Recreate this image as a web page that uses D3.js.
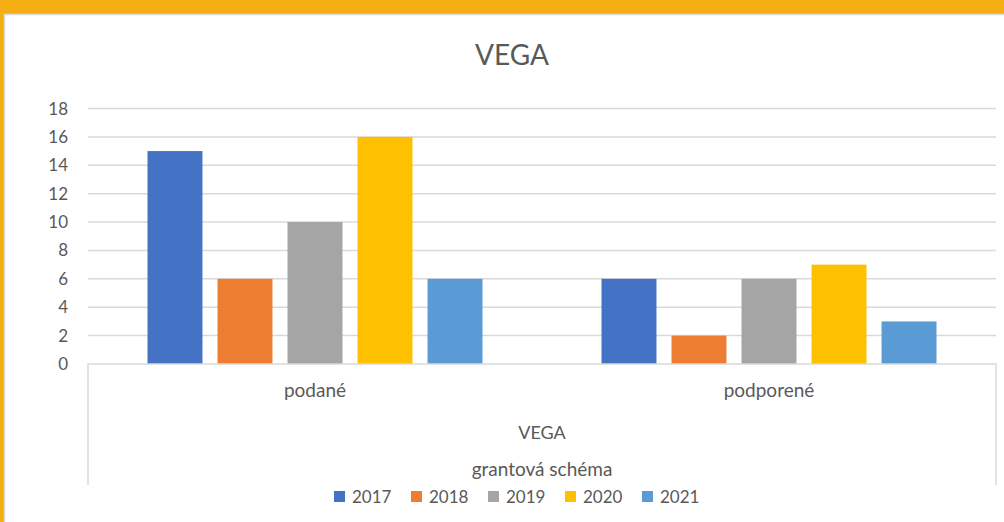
<!DOCTYPE html>
<html>
<head>
<meta charset="utf-8">
<script src="https://cdn.jsdelivr.net/npm/d3@7"></script>
<style>
  body { margin: 0; background: #F4AE14; }
  svg { display: block; font-family: Lato, "Open Sans", sans-serif; }
</style>
</head>
<body>
<div class="container"></div>
<script>
const categories = ["podané", "podporené"];
const years = ["2017", "2018", "2019", "2020", "2021"];
const values2017 = [15, 6];
const values2018 = [6, 2];
const values2019 = [10, 6];
const values2020 = [16, 7];
const values2021 = [6, 3];
const yTicks = [0, 2, 4, 6, 8, 10, 12, 14, 16, 18];
const colors = ["#4472C4", "#ED7D31", "#A5A5A5", "#FFC000", "#5B9BD5"];

const series = [values2017, values2018, values2019, values2020, values2021];

const width = 1004;
const height = 522;

const svg = d3.select("div.container")
    .append("svg")
    .attr("width", width)
    .attr("height", height);

// orange frame + white chart area
svg.append("rect").attr("x", 0).attr("y", 0).attr("width", width).attr("height", height).attr("fill", "#F4AE14");
svg.append("rect").attr("x", 4.5).attr("y", 14.5).attr("width", width).attr("height", height)
    .attr("fill", "#fff").attr("stroke", "#d9d9d9").attr("stroke-width", 1.5);

const plotLeft = 88, plotRight = 996, plotTop = 108.5, plotBottom = 364;

const x0 = d3.scaleBand().domain(categories).range([plotLeft, plotRight]);
const x1 = d3.scaleBand().domain(years).range([59.5, 454 - 59.5]).paddingInner(0.215);
const y = d3.scaleLinear().domain([0, 18]).range([plotBottom, plotTop]);

svg.append("text").attr("x", 512).attr("y", 65).attr("text-anchor", "middle")
    .attr("font-size", 28).attr("fill", "#595959").text("VEGA");

// gridlines
svg.append("g").selectAll("line")
    .data(yTicks.filter(d => d > 0))
    .enter()
    .append("line")
    .attr("x1", plotLeft).attr("x2", plotRight)
    .attr("y1", d => y(d)).attr("y2", d => y(d))
    .attr("stroke", "#d9d9d9").attr("stroke-width", 1.5);

// y axis labels
svg.append("g").selectAll("text")
    .data(yTicks)
    .enter()
    .append("text")
    .attr("x", 68).attr("y", d => y(d) + 6)
    .attr("text-anchor", "end")
    .attr("font-size", 17).attr("fill", "#595959")
    .text(d => d);

// bars
years.forEach(function(yr, i) {
    svg.append("g").selectAll("rect")
        .data(series[i])
        .enter()
        .append("rect")
        .attr("x", (d, j) => x0(categories[j]) + x1(yr))
        .attr("y", d => y(d))
        .attr("width", x1.bandwidth())
        .attr("height", d => y(0) - y(d))
        .attr("fill", colors[i]);
});

// category axis box
svg.append("path")
    .attr("d", `M${plotLeft},485V${plotBottom}H${plotRight}V485`)
    .attr("fill", "none").attr("stroke", "#d9d9d9").attr("stroke-width", 1.5);

svg.append("g").selectAll("text")
    .data(categories)
    .enter()
    .append("text")
    .attr("x", d => x0(d) + x0.bandwidth() / 2)
    .attr("y", 397)
    .attr("text-anchor", "middle")
    .attr("font-size", 19).attr("fill", "#595959")
    .text(d => d);

svg.append("text").attr("x", (plotLeft + plotRight) / 2).attr("y", 439).attr("text-anchor", "middle")
    .attr("font-size", 18).attr("fill", "#595959").text("VEGA");

svg.append("text").attr("x", (plotLeft + plotRight) / 2).attr("y", 476).attr("text-anchor", "middle")
    .attr("font-size", 19).attr("fill", "#595959").text("grantová schéma");

// legend
const legend = svg.append("g").selectAll("g")
    .data(years)
    .enter()
    .append("g")
    .attr("transform", (d, i) => `translate(${334 + i * 77},491)`);
legend.append("rect").attr("width", 11).attr("height", 11).attr("fill", (d, i) => colors[i]);
legend.append("text").attr("x", 18).attr("y", 12).attr("font-size", 17).attr("fill", "#595959").text(d => d);
</script>
</body>
</html>
